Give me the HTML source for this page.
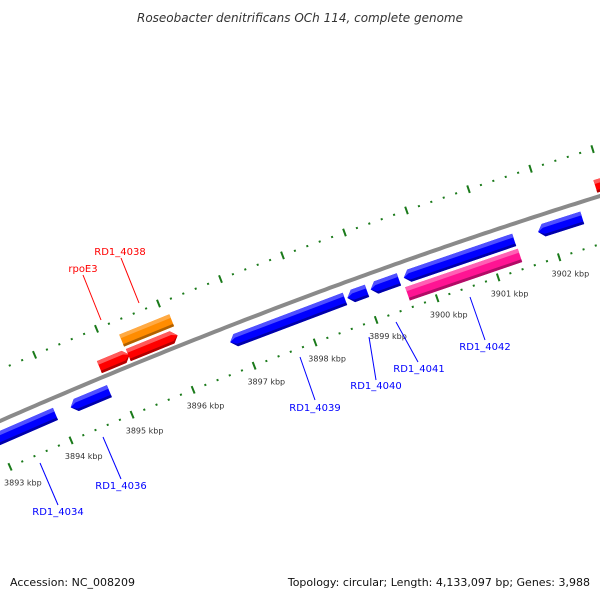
<!DOCTYPE html>
<html><head><meta charset="utf-8"><style>
html,body{margin:0;padding:0;background:#fff;}
svg{display:block;font-family:"DejaVu Sans","Liberation Sans",sans-serif;}
</style></head><body>
<svg id="chart" width="600" height="600" viewBox="0 0 600 600" xmlns="http://www.w3.org/2000/svg">
<text x="300" y="22" text-anchor="middle" font-size="12" font-style="italic" fill="#333">Roseobacter denitrificans OCh 114, complete genome</text>
<g id="ticks"></g>
<path id="genome" d="" fill="none" stroke="#8a8a8a" stroke-width="4"/>
<g id="genes"></g>
<g id="labels"></g>
<text x="10" y="586" font-size="11" fill="#111">Accession: NC_008209</text>
<text x="590" y="586" text-anchor="end" font-size="11" fill="#111">Topology: circular; Length: 4,133,097 bp; Genes: 3,988</text>
</svg>
<script>
// gene data (kbp)
const geneNames = ["RD1_4034","RD1_4036","rpoE3","RD1_4038","RD1_4038-rna","RD1_4039","RD1_4040","RD1_4041","RD1_4041b","RD1_4042","RD1_4043","RD1_4044"];
const geneStarts = [3892.76,3894.19,3894.82,3895.29,3895.28,3896.79,3898.70,3899.08,3899.62,3899.59,3901.81,3902.87];
const geneEnds   = [3893.94,3894.82,3895.31,3896.09,3896.09,3898.66,3899.02,3899.54,3901.42,3901.43,3902.53,3904.2];
const geneTracks = ["blue","blue","red","red","orange","blue","blue","blue","blue","pink","blue","red"];
const tickStart = 3890, tickEnd = 3906;
const tickLabels = ["3893 kbp","3894 kbp","3895 kbp","3896 kbp","3897 kbp","3898 kbp","3899 kbp","3900 kbp","3901 kbp","3902 kbp"];
const tickLabelKbp = [3893,3894,3895,3896,3897,3898,3899,3900,3901,3902];
const labelTexts = ["rpoE3","RD1_4038","RD1_4034","RD1_4036","RD1_4039","RD1_4040","RD1_4041","RD1_4042"];

const NS="http://www.w3.org/2000/svg";
function Y(x){const t=x/600;return (1-t)*(1-t)*421+2*t*(1-t)*289.5+t*t*196;}
function dY(x){const t=x/600;return (2*(1-t)*(289.5-421)+2*t*(196-289.5))/600;}
function pt(k,d){const x0=422+(k-3900)*61.5;const y0=Y(x0);const s=dY(x0);const n=Math.sqrt(1+s*s);return [x0+(-s/n)*d,y0+(1/n)*d];}
function ps(arr){return arr.map(p=>p[0].toFixed(1)+","+p[1].toFixed(1)).join(" ");}

// backbone
let dd="";for(let x=-10;x<=610;x+=5){dd+=(x===-10?"M":"L")+x+","+Y(x).toFixed(1);}
document.getElementById("genome").setAttribute("d",dd);

const trackStyle={blue:{d1:9,d2:22,dir:-1,c:"#0000ff",l:"#5050ff",k:"#0000a8"},
 red:{d1:-17,d2:-4,dir:1,c:"#ff0000",l:"#ff5a5a",k:"#b00000"},
 orange:{d1:-33,d2:-20,dir:0,c:"#ff8c00",l:"#ffaa44",k:"#b06000"},
 pink:{d1:25,d2:39,dir:0,c:"#ff1493",l:"#ff60b4",k:"#b00c66"}};
function shape(k1,k2,d1,d2,dir,m1,m2){
 const a=0.09, mid=(m1+m2)/2;
 if(dir<0) return [pt(k1,mid),pt(k1+a,d1),pt(k2,d1),pt(k2,d2),pt(k1+a,d2)];
 if(dir>0) return [pt(k1,d1),pt(k2-a,d1),pt(k2,mid),pt(k2-a,d2),pt(k1,d2)];
 return [pt(k1,d1),pt(k2,d1),pt(k2,d2),pt(k1,d2)];
}
const gg=document.getElementById("genes");
for(let i=0;i<geneNames.length;i++){
 const st=trackStyle[geneTracks[i]];const k1=geneStarts[i],k2=geneEnds[i];
 const h=st.d2-st.d1;
 const g=document.createElementNS(NS,"g");
 
 
 const layers=[[st.d1,st.d2,st.c],[st.d1,st.d1+h*0.3,st.l],[st.d2-h*0.2,st.d2,st.k]];
 layers.forEach((L,j)=>{
  const p=document.createElementNS(NS,"polygon");
  
  
  p.setAttribute("points",ps(shape(k1,k2,L[0],L[1],st.dir,st.d1,st.d2)));
  p.setAttribute("fill",L[2]);
  g.appendChild(p);
 });
 gg.appendChild(g);
}

// ticks
const tg=document.getElementById("ticks");
for(let k10=tickStart*5;k10<=tickEnd*5;k10++){
 const k=k10/5;const major=(k10%5===0);
 [-47,46].forEach(d=>{
  const len=major?4:1;
  const a=pt(k,d-len),b=pt(k,d+len);
  const l=document.createElementNS(NS,"line");
  
  
  l.setAttribute("x1",a[0]);l.setAttribute("y1",a[1]);l.setAttribute("x2",b[0]);l.setAttribute("y2",b[1]);
  l.setAttribute("stroke","#1a7a1a");l.setAttribute("stroke-width",major?2:2);
  tg.appendChild(l);
 });
}
tickLabels.forEach((t,i)=>{
 const p=pt(tickLabelKbp[i],63);
 const tx=document.createElementNS(NS,"text");
 
 
 tx.setAttribute("x",p[0]+6);tx.setAttribute("y",p[1]+3);
 tx.setAttribute("text-anchor","middle");tx.setAttribute("font-size","8");tx.setAttribute("fill","#333");
 tx.textContent=t;tg.appendChild(tx);
});

// gene labels with leaders
const labelColors=["#ff0000","#ff0000","#0000ff","#0000ff","#0000ff","#0000ff","#0000ff","#0000ff"];
const labelX=[83,120,58,121,315,376,419,485];
const labelY=[272,255,515,489,411,389,372,350];
const leadFrom=[[83,275],[121,258],[40,463],[103,437],[300,357],[369,337],[396,322],[470,297]];
const leadTo=[[101,320],[139,303],[58,505],[121,479],[315,400],[376,380],[418,362],[485,340]];
const lg=document.getElementById("labels");
labelTexts.forEach((t,i)=>{
 const l=document.createElementNS(NS,"line");
 
 
 const top=labelColors[i]==="#ff0000";
 const A=top?leadFrom[i]:leadFrom[i], B=leadTo[i];
 l.setAttribute("x1",A[0]);l.setAttribute("y1",A[1]);l.setAttribute("x2",B[0]);l.setAttribute("y2",B[1]);
 l.setAttribute("stroke",labelColors[i]);l.setAttribute("stroke-width","1");
 lg.appendChild(l);
 const tx=document.createElementNS(NS,"text");
 
 
 tx.setAttribute("x",labelX[i]);tx.setAttribute("y",labelY[i]);
 tx.setAttribute("text-anchor","middle");tx.setAttribute("font-size","10");tx.setAttribute("fill",labelColors[i]);
 tx.textContent=t;lg.appendChild(tx);
});
</script>
</body></html>
